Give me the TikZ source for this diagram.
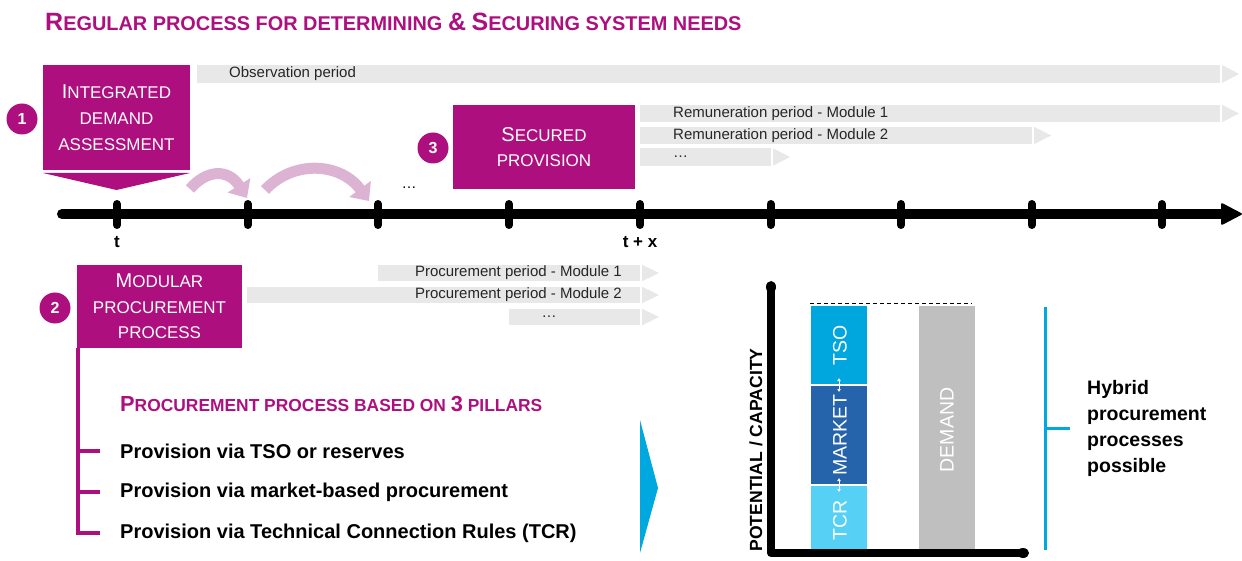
\documentclass[tikz,border=0pt]{standalone}
\usepackage{fontspec}
\setmainfont{Liberation Sans}
\usetikzlibrary{arrows.meta}
\definecolor{mag}{HTML}{AE0F7E}
\definecolor{pinkarr}{HTML}{DDB3D3}
\definecolor{barg}{HTML}{E8E8E8}
\definecolor{tsoc}{HTML}{00A6DE}
\definecolor{mktc}{HTML}{2563AB}
\definecolor{tcrc}{HTML}{56D0F5}
\definecolor{demc}{HTML}{BFBFBF}
\definecolor{brk}{HTML}{00A8E0}
\newcommand{\fs}[2]{\fontsize{#1}{#2}\selectfont}
\newcommand{\BL}[2]{{\fontsize{#1}{#1}\selectfont #2}}
\newcommand{\pbar}[4]{\fill[barg] (#1,#3-#4) rectangle (#2,#3+#4); \fill[barg] (#2+2,#3-#4) -- (#2+19,#3) -- (#2+2,#3+#4) -- cycle;}
\begin{document}
\begin{tikzpicture}[x=1pt,y=-1pt,
  box/.style={fill=mag,text=white,align=center,inner sep=0pt,font=\fs{17}{25.5}},
  num/.style={circle,fill=mag,text=white,font=\bfseries\fs{16}{16},minimum size=31pt,inner sep=0pt},
  bartext/.style={font=\fs{15}{15},text=black!85,inner sep=0pt},
  tick/.style={line width=8pt,line cap=round},
  pillar/.style={font=\bfseries\fs{20}{20},anchor=west,inner sep=0pt},
  vtext/.style={rotate=90,text=white,font=\fs{19.5}{19.5},inner sep=0pt},
  parrow/.style={pinkarr,line width=11pt,-{Triangle[length=15pt,width=26pt]}}
]
\useasboundingbox (0,0) rectangle (1242,561);
% title
\node[anchor=west,text=mag,font=\bfseries\fs{19.9}{20},inner sep=0pt] (title) at (45,22)
  {\BL{25}{R}EGULAR PROCESS FOR DETERMINING \BL{25}{\&} \BL{25}{S}ECURING SYSTEM NEEDS};
% period bars
\pbar{197}{1220}{74}{9}
\node[bartext,anchor=west] (obs) at (229,74) {Observation period};
\pbar{640}{1220}{113.5}{8.7}
\node[bartext,anchor=west] (rem1) at (673,114) {Remuneration period - Module 1};
\pbar{640}{1032}{135.5}{8.7}
\node[bartext,anchor=west] (rem2) at (673,136) {Remuneration period - Module 2};
\pbar{640}{771}{157}{8.7}
\node[bartext,anchor=west] (rem3) at (673,157) {\dots};
\pbar{378}{640}{273}{8.3}
\node[bartext,anchor=east] (pro1) at (622,273) {Procurement period - Module 1};
\pbar{247}{640}{295}{8.3}
\node[bartext,anchor=east] (pro2) at (622,295) {Procurement period - Module 2};
\pbar{509}{640}{317}{8.3}
\node[bartext] (pro3) at (549,317) {\dots};
% box 1
\node[box,minimum width=147pt,minimum height=105pt,font=\fs{17}{26}] (ida) at (116.5,117.5)
  {\BL{20}{I}NTEGRATED\\DEMAND\\ASSESSMENT};
\fill[mag] (43,173) -- (190,173) -- (116.5,190) -- cycle;
\node[num] (n1) at (22,119) {1};
% box 3
\node[box,minimum width=182pt,minimum height=84pt,font=\fs{17}{25}] (sp) at (544,147)
  {\BL{20}{S}ECURED\\PROVISION};
\node[num] (n3) at (433,148) {3};
% box 2
\node[box,minimum width=165pt,minimum height=83pt] (mpp) at (159.5,306.5)
  {\BL{20}{M}ODULAR\\PROCUREMENT\\PROCESS};
\node[num] (n2) at (55,308) {2};
% pink arrows
\coordinate (a1s) at (190,189);
\coordinate (a1e) at (247,198);
\coordinate (a2s) at (265,190);
\coordinate (a2e) at (369,201);
\draw[parrow] (a1s) .. controls (206,170) and (228,168) .. (a1e);
\draw[parrow] (a2s) .. controls (293,160) and (340,162) .. (a2e);
\node[font=\fs{15}{15},inner sep=0pt] (dots1) at (409,188) {\dots};
% timeline
\coordinate (tl0) at (62,214);
\coordinate (tl1) at (1226,214);
\draw[line width=10pt,line cap=round] (tl0) -- (tl1);
\fill[rounded corners=2pt] (1221,202.5) -- (1243,214) -- (1221,225.5) -- cycle;
\foreach \x in {117,247.5,378,509,640,770.5,901,1031.5,1162}
  \draw[tick] (\x,204) -- (\x,225);
\node[font=\bfseries\fs{17}{17},inner sep=0pt] (tl) at (117,242) {t};
\node[font=\bfseries\fs{17}{17},inner sep=0pt] (txl) at (640,242) {t + x};
% pillars
\draw[mag,line width=3.5pt] (78,348) -- (78,533) -- (100,533);
\draw[mag,line width=3.5pt] (78,451) -- (100,451);
\draw[mag,line width=3.5pt] (78,492) -- (100,492);
\node[anchor=west,text=mag,font=\bfseries\fs{17.4}{17.4},inner sep=0pt] (ph) at (120,404)
  {\BL{21.8}{P}ROCUREMENT PROCESS BASED ON \BL{21.8}{3} PILLARS};
\node[pillar] (p1) at (120,451) {Provision via TSO or reserves};
\node[pillar] (p2) at (120,492) {Provision via market-based procurement};
\node[pillar] (p3) at (120,533) {Provision via Technical Connection Rules (TCR)};
\fill[brk] (640,420) -- (658,488) -- (640,553) -- cycle;
% chart
\fill[tcrc] (811,486) rectangle (867,553);
\fill[mktc] (811,386) rectangle (867,484);
\fill[tsoc] (811,306) rectangle (867,384);
\fill[demc] (919,306) rectangle (975,553);
\node[vtext] (tso) at (840,345) {TSO};
\node[vtext] (mkt) at (840,435) {MARKET};
\node[vtext] (tcr) at (840,520) {TCR};
\node[vtext] (dem) at (947,430) {DEMAND};
\draw[white,line width=1pt,{Latex[length=3pt,width=4pt]}-{Latex[length=3pt,width=4pt]}] (839,378) -- (839,392);
\draw[white,line width=1pt,{Latex[length=3pt,width=4pt]}-{Latex[length=3pt,width=4pt]}] (839,478) -- (839,492);
\draw[dashed,line width=1pt,dash pattern=on 4pt off 3pt] (810,304) -- (972,304);
\coordinate (ax0) at (771,287);
\coordinate (axo) at (771,553);
\coordinate (ax1) at (1023,553);
\draw[line width=8pt,line cap=round,line join=round] (ax0) -- (axo) -- (ax1);
\fill (ax0) ellipse (5pt and 6pt);
\fill (ax1) ellipse (6pt and 5pt);
\node[rotate=90,font=\bfseries\fs{17.6}{18},inner sep=0pt] (ylab) at (756,450) {POTENTIAL / CAPACITY};
% hybrid
\draw[brk,line width=3pt] (1045,307) -- (1045,550);
\draw[brk,line width=3pt] (1045,428) -- (1070,428);
\node[anchor=west,align=left,font=\bfseries\fs{19.5}{25.7},inner sep=0pt] (hyb) at (1087,428.5)
  {Hybrid\\procurement\\processes\\possible};
\end{tikzpicture}
\end{document}
